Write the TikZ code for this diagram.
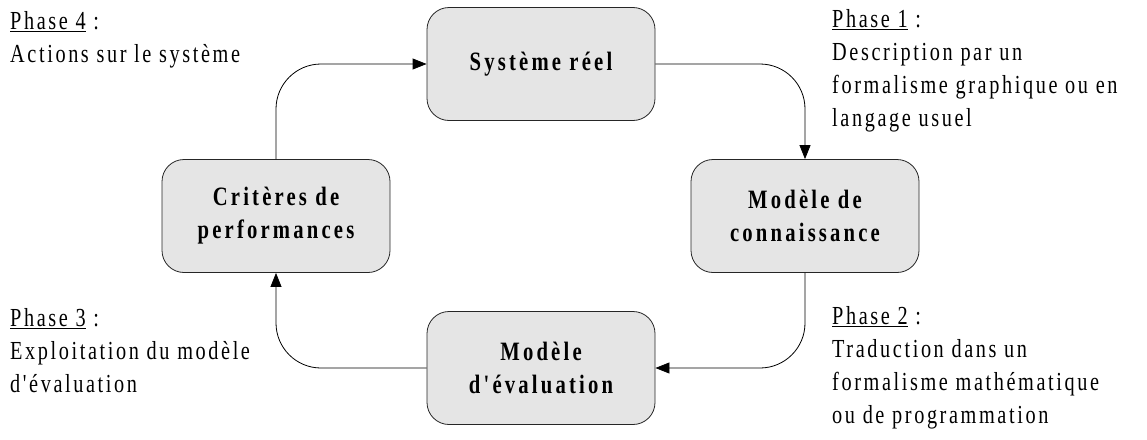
\documentclass[tikz,border=0pt]{standalone}
\usepackage{fontspec}
\setmainfont{Liberation Serif}
\newfontfamily\labfont[FakeStretch=0.78,LetterSpace=10]{Liberation Serif}
\newfontfamily\boxfont[FakeStretch=0.78,LetterSpace=12]{Liberation Serif}
\usetikzlibrary{arrows.meta}
\begin{document}
\begin{tikzpicture}[x=1pt,y=-1pt,
  box/.style={draw=black!85, fill=black!10, rounded corners=22pt, line width=0.8pt,
    minimum width=228pt, minimum height=113pt, align=center, inner sep=0pt,
    font=\boxfont\bfseries\fontsize{26.5}{33}\selectfont},
  conn/.style={draw=black, line width=0.8pt, rounded corners=45pt, -{Triangle[length=14pt,width=11pt]}},
  lab/.style={anchor=north west, align=left, inner sep=0pt,
    font=\labfont\fontsize{26}{33}\selectfont}]
\useasboundingbox (0,0) rectangle (1147,439);
\node[box] (sr) at (541,64) {Système réel};
\node[box] (mc) at (805,216) {Modèle de\\connaissance};
\node[box] (me) at (541,368) {Modèle\\d'évaluation};
\node[box] (cp) at (276,216) {Critères de\\performances};
\draw[conn] (sr.east) -| (mc.north);
\draw[conn] (mc.south) |- (me.east);
\draw[conn] (me.west) -| (cp.south);
\draw[conn] (cp.north) |- (sr.west);
\node[lab] (p4) at (10,11) {\underline{Phase 4} :\\Actions sur le système};
\node[lab] (p1) at (832,9) {\underline{Phase 1} :\\Description par un\\formalisme graphique ou en\\langage usuel};
\node[lab] (p3) at (10,308) {\underline{Phase 3} :\\Exploitation du modèle\\d'évaluation};
\node[lab] (p2) at (832,306) {\underline{Phase 2} :\\Traduction dans un\\formalisme mathématique\\ou de programmation};
\end{tikzpicture}
\end{document}
